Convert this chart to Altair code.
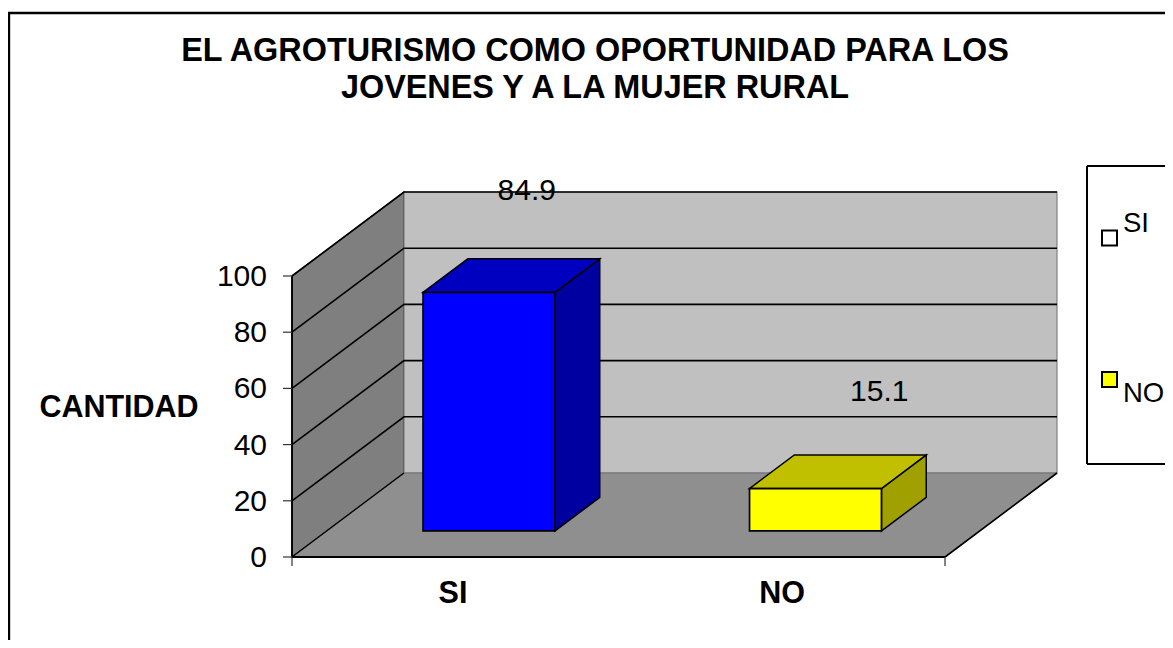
import altair as alt
import pandas as pd

# ---- data ----
categories = ["SI", "NO"]
values = [84.9, 15.1]
bar_fronts = ["#0000ff", "#ffff00"]
bar_tops = ["#0000c0", "#c0c000"]
bar_sides = ["#0000a0", "#a0a000"]
value_ticks = [0, 20, 40, 60, 80, 100]
title_lines = ["EL AGROTURISMO COMO OPORTUNIDAD PARA LOS", "JOVENES Y A LA MUJER RURAL"]

W, H = 1157, 632
FONT = "Liberation Sans"
CAT_PX, VAL_PX = 326.5, 2.81      # pixels per category, per value unit
DEPTH_X, DEPTH_Y = 112 / CAT_PX, 84 / VAL_PX  # oblique projection of depth
X0, Y0 = 292 - 8, 557 - 8       # origin inside the svg

x_scale = alt.Scale(domain=[-X0 / CAT_PX, (W - X0) / CAT_PX], nice=False, zero=False)
y_scale = alt.Scale(domain=[(Y0 - H) / VAL_PX, Y0 / VAL_PX], nice=False, zero=False)
X = alt.X("x:Q", scale=x_scale, axis=None)
Y = alt.Y("y:Q", scale=y_scale, axis=None)


def proj(c, v, d):
    return (c + d * DEPTH_X, v + d * DEPTH_Y)


def polygon(points, fill, stroke="#000000", width=1.2):
    """Filled convex polygon as an area: upper and lower envelope per x."""
    xs = sorted({round(p[0], 6) for p in points})
    rows = []
    n = len(points)
    for x in xs:
        ys = []
        for i in range(n):
            (a, b), (c, e) = points[i], points[(i + 1) % n]
            lo, hi = min(a, c), max(a, c)
            if lo - 1e-5 <= x <= hi + 1e-5:
                if abs(c - a) < 1e-5:
                    ys += [b, e]
                else:
                    ys.append(b + (e - b) * (x - a) / (c - a))
        rows.append({"x": x, "y": max(ys), "y2": min(ys)})
    return alt.Chart(pd.DataFrame(rows)).mark_area(
        fill=fill, stroke=stroke, strokeWidth=width, opacity=1, strokeJoin="miter"
    ).encode(x=X, y=Y, y2="y2:Q")


def polyline(points, color="#000000", width=1.6):
    df = pd.DataFrame({"x": [p[0] for p in points], "y": [p[1] for p in points], "o": range(len(points))})
    return alt.Chart(df).mark_line(color=color, strokeWidth=width).encode(x=X, y=Y, order="o:Q")


def label(text, px, py, size=30, bold=False, align="center"):
    return alt.Chart(pd.DataFrame({"t": [text]})).mark_text(
        font=FONT, fontSize=size, fontWeight="bold" if bold else "normal",
        align=align, baseline="middle", color="#000000",
    ).encode(x=alt.value(px - 8), y=alt.value(py - 8), text="t:N")


def rule(x1, y1, x2=None, y2=None, width=2):
    enc = {"x": alt.value(x1 - 8), "y": alt.value(y1 - 8)}
    if x2 is not None:
        enc["x2"] = alt.value(x2 - 8)
    if y2 is not None:
        enc["y2"] = alt.value(y2 - 8)
    return alt.Chart(pd.DataFrame({"a": [0]})).mark_rule(color="#000000", strokeWidth=width).encode(**enc)


n_cat = len(categories)
top = value_ticks[-1]
layers = []

# outer frame
layers += [rule(8, 13, x2=1173, width=2.4), rule(9, 13, y2=648, width=2.4)]

# walls and floor
layers.append(polygon([proj(0, 0, 0), proj(0, 0, 1), proj(0, top, 1), proj(0, top, 0)], "#7f7f7f", "#000000", 1.2))
layers.append(polygon([proj(0, 0, 1), proj(n_cat, 0, 1), proj(n_cat, top, 1), proj(0, top, 1)], "#c0c0c0", "#808080", 1.2))
layers.append(polygon([proj(0, 0, 0), proj(n_cat, 0, 0), proj(n_cat, 0, 1), proj(0, 0, 1)], "#8f8f8f", "#707070", 1.0))

# grid lines on both walls
for v in value_ticks[1:]:
    layers.append(polyline([proj(0, v, 0), proj(0, v, 1), proj(n_cat, v, 1)]))
layers.append(polyline([proj(0, 0, 0), proj(0, top, 0)], width=1.8))
layers.append(polyline([proj(0, 0, 0), proj(0, 0, 1)], width=1.2))
layers.append(polyline([proj(0, 0, 0), proj(n_cat, 0, 0)], width=2.2))
layers.append(polyline([proj(n_cat, 0, 0), proj(n_cat, 0, 1)], width=1.6))

# axis ticks
for v in value_ticks:
    layers.append(polyline([(-9 / CAT_PX, v), (0, v)], color="#333333", width=1.2))
    layers.append(label(str(v), 267, 557 - v * VAL_PX + 1, align="right"))
for c in [0, n_cat]:
    layers.append(polyline([(c, 0), (c, -9 / VAL_PX)], color="#333333", width=1.2))

# bars
WIDTH_FRAC, GAP_L = 0.404, 0.295
D0, D1 = 0.31, 0.71
for i, v in enumerate(values):
    a, b = i + GAP_L, i + GAP_L + WIDTH_FRAC
    base = 0
    layers.append(polygon([proj(b, base, D0), proj(b, base, D1), proj(b, v, D1), proj(b, v, D0)], bar_sides[i], width=1.5))
    layers.append(polygon([proj(a, v, D0), proj(b, v, D0), proj(b, v, D1), proj(a, v, D1)], bar_tops[i], width=1.5))
    layers.append(polygon([proj(a, base, D0), proj(b, base, D0), proj(b, v, D0), proj(a, v, D0)], bar_fronts[i], width=1.7))

# value labels, anchored on the top back edge of each bar
offsets = [(-7, -67.5), (19, -62.5)]
for i, v in enumerate(values):
    cx, cy = proj(i + GAP_L + WIDTH_FRAC / 2, v, D1)
    lab = pd.DataFrame({"x": [cx], "y": [cy], "t": [str(v)]})
    layers.append(alt.Chart(lab).mark_text(
        font=FONT, fontSize=30, baseline="middle", align="center", color="#000000",
        dx=offsets[i][0], dy=offsets[i][1],
    ).encode(x=X, y=Y, text="t:N"))

# titles and axis titles
layers.append(label(title_lines[0], 595, 51, size=32.4, bold=True))
layers.append(label(title_lines[1], 595, 88, size=32.4, bold=True))
layers.append(label("CANTIDAD", 119, 408, size=30.5, bold=True))
layers.append(label(categories[0], 453, 594, size=30.5, bold=True))
layers.append(label(categories[1], 782, 594, size=30.5, bold=True))

# legend box
layers += [rule(1087, 166, x2=1173), rule(1087, 464, x2=1173), rule(1087, 166, y2=464)]
legend_fill = ["#ffffff", "#ffff00"]
legend_y = [238, 379.5]
legend_text_y = [224, 394]
for i, c in enumerate(categories):
    layers.append(alt.Chart(pd.DataFrame({"a": [0]})).mark_rect(
        fill=legend_fill[i], stroke="#000000", strokeWidth=2
    ).encode(
        x=alt.value(1102 - 8), x2=alt.value(1117 - 8),
        y=alt.value(legend_y[i] - 7.5 - 8), y2=alt.value(legend_y[i] + 7.5 - 8),
    ))
    layers.append(label(c, 1123, legend_text_y[i], size=27.5, align="left"))

chart = alt.layer(*layers).properties(
    width=W, height=H, padding=0, autosize="none", background="#ffffff"
).configure_view(stroke=None)

chart.save("out.html", embed_options={"renderer": "svg", "actions": False})
